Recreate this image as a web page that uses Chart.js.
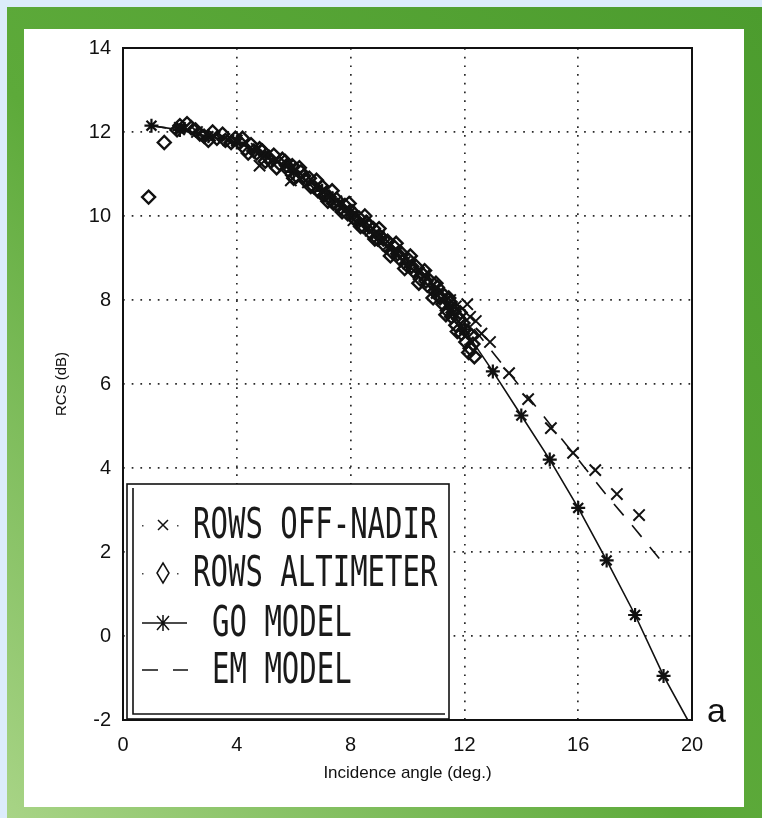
<!DOCTYPE html>
<html>
<head>
  <title>RCS vs incidence angle</title>
  <script src="https://cdn.jsdelivr.net/npm/chart.js"></script>
  <style>
    html, body { margin: 0; padding: 0; }
    body { width: 762px; height: 818px; overflow: hidden; position: relative; background: #dcecfb; }
    #frame { position: absolute; left: 7px; top: 7px; width: 755px; height: 811px;
      background: linear-gradient(to bottom left, #4c9c2e 0%, #5daa3a 55%, #a8d486 100%); }
    #paper { position: absolute; left: 24px; top: 29px; width: 720px; height: 778px; background: #fff; }
    canvas { position: absolute; left: 0; top: 0; }
  </style>
</head>
<body>
  <div id="frame"></div>
  <div id="paper"></div>
  <canvas id="rcsChart" width="762" height="818"></canvas>

  <script>
    // axis ticks
    const xTicks = [0, 4, 8, 12, 16, 20];
    const yTicks = [-2, 0, 2, 4, 6, 8, 10, 12, 14];

    // ROWS altimeter (diamonds)
    const altAngle = [0.9, 1.45, 1.9, 2.0, 2.25, 2.4, 2.55, 2.7, 2.85, 3.0, 3.15, 3.3, 3.5, 3.6, 3.8, 3.95, 4.1, 4.2,
      4.3, 4.4, 4.5, 4.6, 4.7, 4.8, 4.9, 5.0, 5.1, 5.2, 5.3, 5.4, 5.5, 5.6, 5.7, 5.75, 5.8, 5.95, 6.0, 6.1,
      6.2, 6.25, 6.35, 6.4, 6.55, 6.6, 6.7, 6.8, 6.85, 6.95, 7.0, 7.1, 7.2, 7.25, 7.35, 7.4, 7.5, 7.55, 7.65,
      7.7, 7.8, 7.9, 7.95, 8.05, 8.1, 8.2, 8.3, 8.35, 8.45, 8.5, 8.55, 8.65, 8.7, 8.8, 8.85, 8.95, 9.0, 9.05,
      9.15, 9.2, 9.3, 9.4, 9.45, 9.55, 9.6, 9.65, 9.7, 9.8, 9.9, 9.95, 10.05, 10.1, 10.15, 10.2, 10.3, 10.4,
      10.45, 10.55, 10.6, 10.65, 10.7, 10.8, 10.9, 10.95, 11.0, 11.05, 11.1, 11.15, 11.25, 11.3, 11.35, 11.4,
      11.45, 11.5, 11.55, 11.6, 11.65, 11.7, 11.75, 11.8, 11.85, 11.9, 11.95, 12.0, 12.05, 12.1, 12.15, 12.2,
      12.25, 12.3, 12.35];
    const altRcs = [10.45, 11.75, 12.05, 12.15, 12.2, 12.1, 12.05, 11.95, 11.9, 11.8, 12.0, 11.85, 11.95, 11.8, 11.75, 11.85, 11.75, 11.85,
      11.6, 11.5, 11.7, 11.55, 11.5, 11.6, 11.55, 11.3, 11.4, 11.3, 11.45, 11.15, 11.25, 11.35, 11.3, 11.2, 11.1, 11.2, 10.9, 10.95,
      11.15, 11.05, 10.95, 10.85, 10.9, 10.7, 10.7, 10.85, 10.6, 10.55, 10.7, 10.5, 10.35, 10.45, 10.6, 10.3, 10.4, 10.25, 10.2,
      10.1, 10.25, 10.05, 10.3, 10.1, 9.95, 9.9, 9.95, 9.75, 9.75, 10.0, 9.85, 9.75, 9.6, 9.7, 9.45, 9.45, 9.7, 9.5,
      9.45, 9.3, 9.4, 9.05, 9.15, 9.25, 9.35, 9.1, 9.0, 9.1, 8.75, 8.85, 8.95, 9.05, 8.8, 8.7, 8.8, 8.4,
      8.5, 8.6, 8.7, 8.45, 8.35, 8.45, 8.05, 8.2, 8.4, 8.3, 8.1, 8.05, 7.9, 8.1, 7.65, 7.75,
      8.05, 7.95, 7.6, 7.7, 7.8, 7.4, 7.25, 7.55, 7.7, 7.2, 7.45, 7.3, 7.0, 7.25, 6.75, 6.85,
      7.15, 6.95, 6.65];

    // ROWS off-nadir (x)
    const offAngle = [2.0, 2.6, 3.2, 3.7, 4.0, 4.7, 4.8, 5.4, 5.9, 5.9, 6.2, 6.5, 7.2, 7.5, 7.8, 8.1, 8.4, 8.7,
      9.0, 9.3, 9.6, 9.9, 10.1, 10.4, 10.6, 11.0, 11.3, 11.5, 11.7, 12.1, 12.2, 12.4, 12.6, 12.9,
      13.57, 14.24, 15.04, 15.82, 16.6, 17.36, 18.14];
    const offRcs = [12.1, 12.0, 11.9, 11.8, 11.8, 11.6, 11.2, 11.35, 11.15, 10.85, 10.9, 10.8, 10.45, 10.35, 10.15, 9.9, 9.8, 9.65,
      9.5, 9.3, 9.15, 8.9, 8.9, 8.65, 8.6, 8.3, 8.05, 8.0, 7.85, 7.9, 7.6, 7.5, 7.2, 7.0,
      6.26, 5.64, 4.95, 4.36, 3.95, 3.38, 2.88];

    // GO model
    const goAngle = [1, 2, 3, 4, 5, 6, 7, 8, 9, 10, 11, 12, 13, 14, 15, 16, 17, 18, 19, 19.85];
    const goRcs = [12.15, 12.05, 11.9, 11.75, 11.45, 11.05, 10.6, 10.1, 9.5, 8.85, 8.15, 7.3, 6.3, 5.25, 4.2, 3.05, 1.8, 0.5, -0.95, -2];

    // EM model
    const emAngle = [1, 2, 3, 4, 5, 6, 7, 8, 9, 10, 11, 12, 13, 14, 15, 16, 17, 18, 18.9];
    const emRcs = [12.15, 12.05, 11.9, 11.75, 11.5, 11.1, 10.65, 10.15, 9.6, 9.0, 8.35, 7.6, 6.75, 5.9, 5.05, 4.2, 3.35, 2.55, 1.8];

    const pts = (xs, ys) => xs.map((x, i) => ({ x: x, y: ys[i] }));

    // box around the plot area + the "a" panel letter
    const frame = {
      id: 'frame',
      afterDatasetsDraw(chart) {
        const { ctx, chartArea: a } = chart;
        ctx.save();
        ctx.strokeStyle = '#111';
        ctx.lineWidth = 2;
        ctx.strokeRect(a.left, a.top, a.right - a.left, a.bottom - a.top);
        ctx.fillStyle = '#111';
        ctx.font = '34px "Liberation Sans", Arial, sans-serif';
        ctx.textBaseline = 'alphabetic';
        ctx.fillText('a', a.right + 15, a.bottom + 2);
        ctx.restore();
      }
    };

    // legend drawn inside the plot, lower left
    const legendBox = {
      id: 'legendBox',
      afterDraw(chart) {
        const { ctx, chartArea: a } = chart;
        const L = a.left + 4, R = a.left + 326, T = a.bottom - 236, B = a.bottom - 1;
        ctx.save();
        ctx.fillStyle = '#fff';
        ctx.fillRect(L, T, R - L, B - T);
        ctx.strokeStyle = '#111';
        ctx.lineWidth = 1.6;
        ctx.strokeRect(L, T, R - L, B - T);
        ctx.beginPath();
        ctx.moveTo(L + 6, T + 4); ctx.lineTo(L + 6, B - 5); ctx.lineTo(R - 4, B - 5);
        ctx.stroke();

        const mx = a.left + 40;
        const rows = [a.bottom - 195, a.bottom - 147, a.bottom - 97, a.bottom - 50];
        ctx.lineWidth = 1.5;
        // rows 1-2: dotted sample
        ctx.fillStyle = '#444';
        [rows[0], rows[1]].forEach(y => {
          ctx.fillRect(mx - 21, y, 1.5, 1.5);
          ctx.fillRect(mx + 14, y, 1.5, 1.5);
        });
        ctx.beginPath();
        ctx.moveTo(mx - 5, rows[0] - 5); ctx.lineTo(mx + 5, rows[0] + 5);
        ctx.moveTo(mx + 5, rows[0] - 5); ctx.lineTo(mx - 5, rows[0] + 5);
        ctx.stroke();
        // row 2: diamond
        ctx.beginPath();
        ctx.moveTo(mx, rows[1] - 10); ctx.lineTo(mx + 6, rows[1]);
        ctx.lineTo(mx, rows[1] + 10); ctx.lineTo(mx - 6, rows[1]); ctx.closePath();
        ctx.stroke();
        // row 3: line + star
        ctx.beginPath();
        ctx.moveTo(mx - 21, rows[2]); ctx.lineTo(mx + 24, rows[2]);
        ctx.moveTo(mx - 6, rows[2] - 7); ctx.lineTo(mx + 6, rows[2] + 7);
        ctx.moveTo(mx + 6, rows[2] - 7); ctx.lineTo(mx - 6, rows[2] + 7);
        ctx.moveTo(mx, rows[2] - 8); ctx.lineTo(mx, rows[2] + 8);
        ctx.stroke();
        // row 4: dashes
        ctx.beginPath();
        ctx.moveTo(mx - 21, rows[3]); ctx.lineTo(mx - 5, rows[3]);
        ctx.moveTo(mx + 10, rows[3]); ctx.lineTo(mx + 25, rows[3]);
        ctx.stroke();

        // labels, tall narrow plotter lettering
        const labels = ['ROWS OFF-NADIR', 'ROWS ALTIMETER', 'GO MODEL', 'EM MODEL'];
        const tx = [mx + 30, mx + 30, mx + 49, mx + 49];
        ctx.fillStyle = '#1a1a1a';
        ctx.font = '29px "DejaVu Sans Mono", monospace';
        ctx.textBaseline = 'alphabetic';
        labels.forEach((s, i) => {
          ctx.save();
          ctx.translate(tx[i], rows[i] + 13);
          ctx.scale(1, 1.45);
          ctx.fillText(s, 0, 0);
          ctx.restore();
        });
        ctx.restore();
      }
    };

    const tickFont = { family: '"Liberation Sans", Arial, sans-serif', size: 20 };

    new Chart(document.getElementById('rcsChart'), {
      type: 'scatter',
      data: {
        datasets: [
          {
            label: 'ROWS OFF-NADIR',
            data: pts(offAngle, offRcs),
            showLine: false,
            pointStyle: 'crossRot',
            pointRadius: 8,
            borderColor: '#111',
            borderWidth: 2
          },
          {
            label: 'ROWS ALTIMETER',
            data: pts(altAngle, altRcs),
            showLine: false,
            pointStyle: 'rectRot',
            pointRadius: 6.5,
            backgroundColor: 'rgba(0,0,0,0)',
            borderColor: '#111',
            borderWidth: 2.4
          },
          {
            label: 'GO MODEL',
            data: pts(goAngle, goRcs),
            showLine: true,
            borderColor: '#111',
            borderWidth: 1.6,
            pointStyle: 'star',
            pointRadius: c => (c.raw && c.raw.y <= -2 ? 0 : 7),
            pointBorderWidth: 2.2,
            pointBorderColor: '#111'
          },
          {
            label: 'EM MODEL',
            data: pts(emAngle, emRcs),
            showLine: true,
            borderColor: '#111',
            borderWidth: 1.6,
            borderDash: [15, 13],
            pointRadius: 0
          }
        ]
      },
      options: {
        responsive: false,
        animation: false,
        devicePixelRatio: 1,
        layout: { padding: { top: 48, right: 70, bottom: 0, left: 0 } },
        plugins: { legend: { display: false }, tooltip: { enabled: false } },
        scales: {
          x: {
            type: 'linear',
            min: 0,
            max: 20,
            afterBuildTicks: s => { s.ticks = xTicks.map(v => ({ value: v })); },
            afterFit: s => { s.height = 98; },
            grid: { color: '#2a2a2a', lineWidth: 1.7, drawTicks: false },
            border: { display: false, dash: [1.7, 7] },
            ticks: { color: '#111', font: tickFont, padding: 13, maxRotation: 0 },
            title: {
              display: true,
              text: 'Incidence angle (deg.)',
              color: '#111',
              font: { family: '"Liberation Sans", Arial, sans-serif', size: 17 },
              padding: { top: 0, bottom: 34 }
            }
          },
          y: {
            type: 'linear',
            min: -2,
            max: 14,
            afterBuildTicks: s => { s.ticks = yTicks.map(v => ({ value: v })); },
            afterFit: s => { s.width = 123; },
            grid: { color: '#2a2a2a', lineWidth: 1.7, drawTicks: false },
            border: { display: false, dash: [1.7, 7] },
            ticks: { color: '#111', font: tickFont, padding: 12 },
            title: {
              display: true,
              text: 'RCS (dB)',
              color: '#111',
              font: { family: '"Liberation Sans", Arial, sans-serif', size: 15 },
              padding: { top: 53, bottom: 0 }
            }
          }
        }
      },
      plugins: [frame, legendBox]
    });
  </script>
</body>
</html>
